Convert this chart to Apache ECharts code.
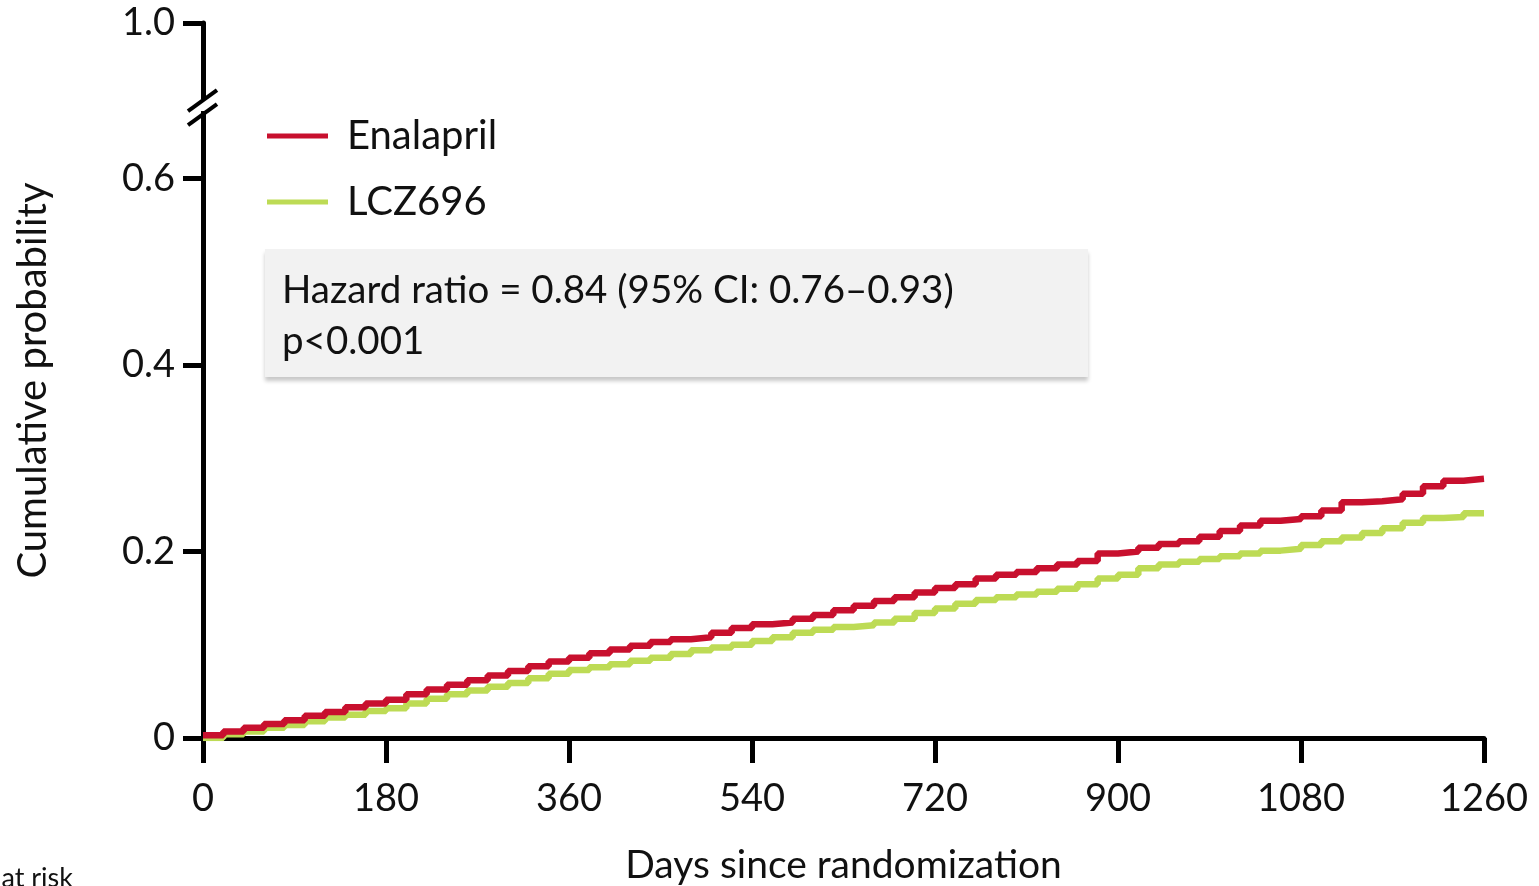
<!DOCTYPE html>
<html>
<head>
<meta charset="utf-8">
<script src="https://cdn.jsdelivr.net/npm/echarts@6/dist/echarts.min.js"></script>
<style>
html,body{margin:0;padding:0;background:#fff;}
#main{width:1539px;height:886px;}
</style>
</head>
<body>
<div id="main"></div>
<script>
// ---- data ----
const days = [0,20,40,60,80,100,120,140,160,180,200,220,240,260,280,300,320,340,360,380,400,420,440,460,480,500,520,540,560,580,600,620,640,660,680,700,720,740,760,780,800,820,840,860,880,900,920,940,960,980,1000,1020,1040,1060,1080,1100,1120,1140,1160,1180,1200,1220,1240,1260];
const enalapril = [0.003,0.007,0.011,0.015,0.019,0.024,0.028,0.033,0.037,0.041,0.047,0.052,0.057,0.062,0.067,0.072,0.077,0.082,0.086,0.091,0.095,0.099,0.103,0.106,0.108,0.113,0.118,0.122,0.124,0.128,0.132,0.137,0.142,0.147,0.151,0.156,0.161,0.165,0.171,0.175,0.178,0.182,0.186,0.190,0.198,0.200,0.204,0.208,0.211,0.216,0.222,0.228,0.233,0.235,0.238,0.244,0.253,0.254,0.256,0.262,0.270,0.276,0.278,0.278];
const lcz696 = [0.000,0.004,0.007,0.011,0.014,0.018,0.022,0.025,0.029,0.032,0.037,0.042,0.047,0.051,0.055,0.059,0.064,0.069,0.073,0.076,0.079,0.083,0.086,0.090,0.094,0.097,0.100,0.104,0.108,0.113,0.116,0.119,0.121,0.124,0.128,0.134,0.139,0.144,0.148,0.151,0.154,0.157,0.160,0.165,0.171,0.175,0.182,0.186,0.189,0.192,0.195,0.198,0.201,0.203,0.207,0.211,0.215,0.220,0.225,0.231,0.236,0.237,0.241,0.241];
const xTicks = [0,180,360,540,720,900,1080,1260];
const yTicks = [0,0.2,0.4,0.6];
const yTopLabel = '1.0';
const yAxisTop = 0.767;   // axis end shown as "1.0" after the break
const yBreakAt = 0.679;
const seriesNames = ['Enalapril','LCZ696'];
const colors = ['#c8102e','#bddb55'];
const annotationLines = ['Hazard ratio = 0.84 (95% CI: 0.76\u20130.93)','p<0.001'];

const FONT = 'Lato, "Open Sans", sans-serif';
const chart = echarts.init(document.getElementById('main'), null, {renderer:'canvas'});

function pairs(ys){ return days.map((d,i)=>[d, ys[i]]); }

const option = {
  backgroundColor:'#fff',
  animation:false,
  textStyle:{fontFamily:FONT},
  grid:{left:203,right:55,top:23,bottom:148,containLabel:false,outerBoundsMode:'none'},
  legend:{
    orient:'vertical', left:262, top:109,
    itemWidth:61, itemHeight:5, itemGap:22, icon:'rect',
    textStyle:{fontSize:40, color:'#111', lineHeight:44, fontFamily:FONT, padding:[0,0,0,14]},
    data:seriesNames
  },
  xAxis:{
    type:'value', min:xTicks[0], max:xTicks[xTicks.length-1], interval:180,
    name:'Days since randomization', nameLocation:'middle', nameGap:108,
    nameTextStyle:{fontSize:39, color:'#111', fontFamily:FONT},
    axisLine:{show:true, onZero:false, lineStyle:{color:'#000', width:5}},
    axisTick:{show:true, inside:false, length:25, lineStyle:{color:'#000', width:5}},
    axisLabel:{fontSize:38, color:'#111', margin:42, fontFamily:FONT,
      formatter:function(v){ return String(v); }},
    splitLine:{show:false}
  },
  yAxis:{
    type:'value', min:0, max:yAxisTop, interval:0.2,
    name:'Cumulative probability', nameLocation:'middle', nameGap:150,
    nameTextStyle:{fontSize:40, color:'#111', fontFamily:FONT},
    axisLine:{show:true, onZero:false, lineStyle:{color:'#000', width:5}},
    axisTick:{show:true, inside:false, length:20, lineStyle:{color:'#000', width:5}},
    axisLabel:{fontSize:38, color:'#111', margin:28, fontFamily:FONT,
      formatter:function(v){
        if (v > 0.7) return yTopLabel;
        if (v === 0) return '0';
        return v.toFixed(1);
      }},
    splitLine:{show:false}
  },
  series:[
    {name:seriesNames[0], type:'line', step:'end', showSymbol:false, symbol:'none',
     data:pairs(enalapril), lineStyle:{color:colors[0], width:6.5}, itemStyle:{color:colors[0]}, z:3},
    {name:seriesNames[1], type:'line', step:'end', showSymbol:false, symbol:'none',
     data:pairs(lcz696), lineStyle:{color:colors[1], width:6.5}, itemStyle:{color:colors[1]}, z:2}
  ]
};
chart.setOption(option);

// decorations: axis break marks, annotation box, cut-off "at risk" label
const ax = chart.convertToPixel({xAxisIndex:0}, 0);
const by = chart.convertToPixel({yAxisIndex:0}, yBreakAt);
chart.setOption({
  graphic:[
    {type:'rect', shape:{x:ax-6, y:by-6, width:12, height:12}, style:{fill:'#fff'}, z:100},
    {type:'line', shape:{x1:ax-15, y1:by-4+10, x2:ax+14, y2:by-4-11}, style:{stroke:'#000', lineWidth:4}, z:101},
    {type:'line', shape:{x1:ax-15, y1:by+10+10, x2:ax+14, y2:by+10-11}, style:{stroke:'#000', lineWidth:4}, z:101},
    {type:'rect', shape:{x:265, y:249, width:823, height:128},
     style:{fill:'#f2f2f2', shadowColor:'rgba(0,0,0,0.22)', shadowBlur:4, shadowOffsetY:4}, z:50},
    {type:'text', left:282, top:271, style:{text:annotationLines[0], fontSize:38.5, fill:'#111', fontFamily:FONT}, z:51},
    {type:'text', left:282, top:322, style:{text:annotationLines[1], fontSize:38.5, fill:'#111', fontFamily:FONT}, z:51},
    {type:'text', x:73, y:865, style:{text:'Number at risk', fontSize:27, fill:'#111', fontFamily:FONT, align:'right', verticalAlign:'top'}, z:51}
  ]
});
</script>
</body>
</html>
